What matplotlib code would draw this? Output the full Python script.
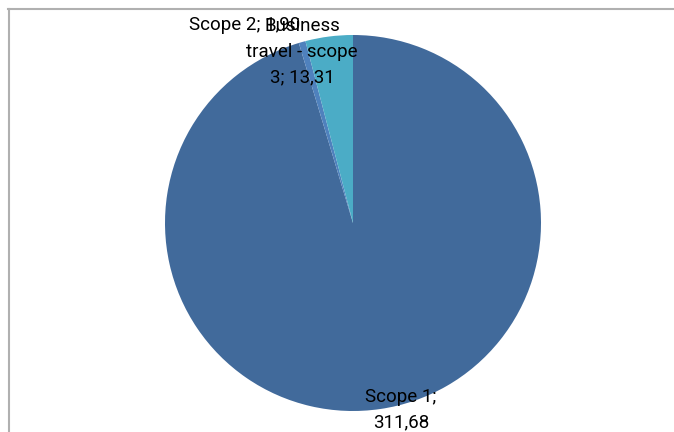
import matplotlib
matplotlib.use("Agg")
import matplotlib.pyplot as plt
from matplotlib.lines import Line2D

labels = ["Scope 1", "Scope 2", "Business\ntravel - scope\n3"]
values = [311.68, 1.90, 13.31]
value_text = ["311,68", "1,90", "13,31"]
colors = ["#416A9B", "#4F81BD", "#4BACC6"]

W, H = 674, 432
fig = plt.figure(figsize=(W / 100, H / 100), dpi=100)

# pie centre and radius in pixels
cx, cy, r = 353, 223, 188
ax = fig.add_axes([(cx - r) / W, (H - cy - r) / H, 2 * r / W, 2 * r / H])
ax.pie(values, colors=colors, startangle=90, counterclock=False,
       wedgeprops=dict(linewidth=0))
ax.set_xlim(-1, 1)
ax.set_ylim(-1, 1)
ax.set_aspect("equal")
ax.axis("off")

# chart frame (partly off the canvas)
fig.add_artist(Line2D([8 / W, 1], [1 - 8.5 / H, 1 - 8.5 / H], color="#b0b0b0", lw=1.5))
fig.add_artist(Line2D([8.5 / W, 8.5 / W], [0, 1 - 8.5 / H], color="#b0b0b0", lw=1.5))

font = dict(fontsize=13.5, family="Roboto", color="#000000",
            ha="center", va="center", linespacing=1.55)
# data labels
fig.text(401 / W, 1 - 410 / H, f"{labels[0]};\n{value_text[0]}", **font)
fig.text(245 / W, 1 - 25 / H, f"{labels[1]}; {value_text[1]}", **font)
fig.text(302 / W, 1 - 52 / H, f"{labels[2]}; {value_text[2]}", **font)

fig.savefig("out.png", dpi=100, facecolor="white")
